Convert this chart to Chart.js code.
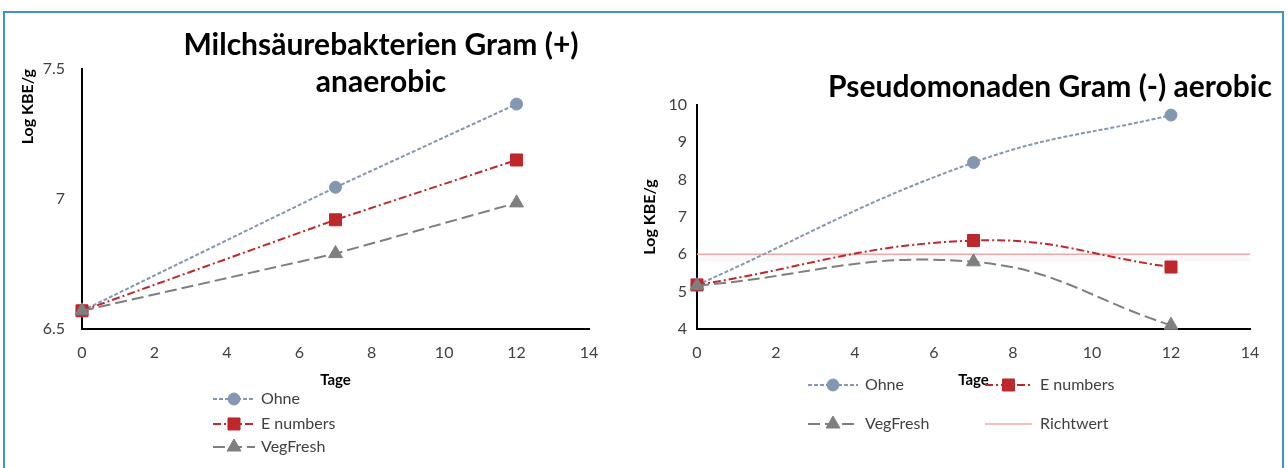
<!DOCTYPE html>
<html>
<head>
<meta charset="utf-8">
<script src="https://cdn.jsdelivr.net/npm/chart.js@4.4.0/dist/chart.umd.min.js"></script>
<style>
html, body { margin: 0; padding: 0; background: #fff; }
body { width: 1288px; height: 468px; position: relative; overflow: hidden; }
#frame { position: absolute; left: 3px; top: 11px; width: 1277px; height: 470px; border: 2px solid #4291cf; border-bottom: none; }
#left { position: absolute; left: 5px; top: 13px; }
#right { position: absolute; left: 640px; top: 13px; }
</style>
</head>
<body>
<div id="frame"></div>
<canvas id="left" width="635" height="455"></canvas>
<canvas id="right" width="642" height="455"></canvas>
<script>
// Werte
const days = [0, 7, 12];
const dayTicks = [0, 2, 4, 6, 8, 10, 12, 14];

const lacTicks = [6.5, 7, 7.5];
const lacOhne = [6.57, 7.045, 7.365];
const lacENumbers = [6.57, 6.92, 7.15];
const lacVegFresh = [6.57, 6.79, 6.985];

const pseTicks = [4, 5, 6, 7, 8, 9, 10];
const pseOhne = [5.18, 8.46, 9.73];
const pseENumbers = [5.18, 6.37, 5.66];
const pseVegFresh = [5.16, 5.8, 4.1];

const richtwertDays = [0, 14];
const richtwertValues = [6, 6];

const seriesStyle = {
  'Ohne':      { color: '#8497b0', dash: [4, 2],        point: 'circle',   radius: 6,   order: 3 },
  'E numbers': { color: '#be282d', dash: [8, 3, 2, 3],  point: 'rect',     radius: 8.5, order: 2 },
  'VegFresh':  { color: '#7f7f7f', dash: [12, 5],       point: 'triangle', radius: 8,   order: 1 },
  'Richtwert': { color: '#f4a7a6', dash: [],            point: false,      radius: 0,   order: 4 }
};

const pts = (xs, ys) => xs.map((x, i) => ({ x: x, y: ys[i] }));

function lineDataset(label, xs, ys, tension) {
  const s = seriesStyle[label];
  return {
    label: label,
    data: pts(xs, ys),
    borderColor: s.color,
    backgroundColor: s.color,
    borderWidth: label === 'Richtwert' ? 1.5 : 2,
    borderDash: s.dash,
    pointStyle: s.point,
    pointRadius: s.radius,
    pointHoverRadius: s.radius,
    pointBorderWidth: 1,
    pointBackgroundColor: s.color,
    pointBorderColor: s.color,
    tension: tension,
    order: s.order,
    clip: false
  };
}

// verschiebt den Titel horizontal (Excel setzt ihn nicht mittig)
const titleShift = {
  id: 'titleShift',
  afterLayout(chart, args, opts) {
    const t = chart.titleBlock;
    if (!t || !opts.dx) return;
    t.left += opts.dx;
    t.right += opts.dx;
  }
};

// leichter grauer Streifen unter dem Richtwert
const richtShadow = {
  id: 'richtShadow',
  beforeDatasetDraw(chart, args) {
    if (chart.data.datasets[args.index].label !== 'Richtwert') return;
    const ctx = chart.ctx;
    ctx.save();
    ctx.shadowColor = 'rgba(0,0,0,0.12)';
    ctx.shadowBlur = 4;
    ctx.shadowOffsetY = 5;
  },
  afterDatasetDraw(chart, args) {
    if (chart.data.datasets[args.index].label !== 'Richtwert') return;
    chart.ctx.restore();
  }
};

// Legende wie in Excel: Linie mit Marker
const lineLegend = {
  id: 'lineLegend',
  afterDraw(chart, args, opts) {
    const ctx = chart.ctx;
    const helpers = Chart.helpers;
    chart.data.datasets.forEach((ds, i) => {
      const it = opts.items[i];
      if (!it) return;
      ctx.save();
      ctx.strokeStyle = ds.borderColor;
      ctx.lineWidth = ds.borderWidth;
      ctx.setLineDash(ds.borderDash || []);
      ctx.beginPath();
      ctx.moveTo(it.x1, it.y);
      ctx.lineTo(it.x2, it.y);
      ctx.stroke();
      ctx.setLineDash([]);
      if (ds.pointStyle) {
        ctx.fillStyle = ds.pointBackgroundColor;
        ctx.strokeStyle = ds.pointBorderColor;
        ctx.lineWidth = 1;
        const cx = (it.x1 + it.x2) / 2;
        if (helpers && helpers.drawPoint) {
          helpers.drawPoint(ctx, { pointStyle: ds.pointStyle, radius: ds.pointRadius, rotation: 0, borderWidth: 1 }, cx, it.y);
        } else {
          ctx.beginPath();
          ctx.arc(cx, it.y, ds.pointRadius, 0, Math.PI * 2);
          ctx.fill();
        }
      }
      ctx.fillStyle = '#404040';
      ctx.font = '16px Lato';
      ctx.textBaseline = 'middle';
      ctx.textAlign = 'left';
      ctx.fillText(ds.label, it.tx, it.y);
      ctx.restore();
    });
  }
};

function scalesFor(yTicks, yMin, yMax, yWidth, yPad, yTitlePad, yTitleAlign) {
  return {
    x: {
      type: 'linear',
      min: 0,
      max: 14,
      afterBuildTicks: s => { s.ticks = dayTicks.map(v => ({ value: v })); },
      afterFit: s => { s.height = 60; },
      grid: { display: false, drawTicks: false },
      border: { display: true, color: '#000', width: 2 },
      ticks: { color: '#404040', font: { family: 'Lato', size: 16 }, padding: 14, maxRotation: 0, callback: v => String(v) },
      title: { display: true, text: 'Tage', color: '#000', font: { family: 'Lato', size: 15, weight: 'bold' }, padding: 0 }
    },
    y: {
      type: 'linear',
      min: yMin,
      max: yMax,
      afterBuildTicks: s => { s.ticks = yTicks.map(v => ({ value: v })); },
      afterFit: s => { s.width = yWidth; },
      grid: { display: false, drawTicks: false },
      border: { display: true, color: '#000', width: 2 },
      ticks: { color: '#404040', font: { family: 'Lato', size: 16 }, padding: yPad, callback: v => String(v) },
      title: { display: true, text: 'Log KBE/g', align: yTitleAlign, color: '#000', font: { family: 'Lato', size: 16, weight: 'bold' }, padding: { top: yTitlePad, bottom: 0 } }
    }
  };
}

new Chart(document.getElementById('left'), {
  type: 'line',
  data: {
    datasets: [
      lineDataset('Ohne', days, lacOhne, 0),
      lineDataset('E numbers', days, lacENumbers, 0),
      lineDataset('VegFresh', days, lacVegFresh, 0)
    ]
  },
  options: {
    responsive: false,
    animation: false,
    layout: { padding: { left: 0, right: 51, top: 0, bottom: 79 } },
    scales: scalesFor(lacTicks, 6.5, 7.5, 77, 17, 13, 'end'),
    plugins: {
      legend: { display: false },
      tooltip: { enabled: false },
      title: {
        display: true,
        text: ['Milchsäurebakterien Gram (+)', 'anaerobic'],
        color: '#000',
        font: { family: 'Lato', size: 30, weight: 'bold', lineHeight: '37px' },
        padding: { top: 13.5, bottom: -31.5 }
      },
      titleShift: { dx: 84 },
      lineLegend: {
        items: [
          { x1: 208, x2: 250, tx: 256, y: 386 },
          { x1: 208, x2: 250, tx: 256, y: 411 },
          { x1: 208, x2: 250, tx: 256, y: 434 }
        ]
      }
    }
  },
  plugins: [titleShift, lineLegend]
});

new Chart(document.getElementById('right'), {
  type: 'line',
  data: {
    datasets: [
      lineDataset('Ohne', days, pseOhne, 0.42),
      lineDataset('E numbers', days, pseENumbers, 0.42),
      lineDataset('VegFresh', days, pseVegFresh, 0.42),
      lineDataset('Richtwert', richtwertDays, richtwertValues, 0)
    ]
  },
  options: {
    responsive: false,
    animation: false,
    layout: { padding: { left: 0, right: 32, top: 0, bottom: 79 } },
    scales: scalesFor(pseTicks, 4, 10, 57, 10, 0, 'center'),
    plugins: {
      legend: { display: false },
      tooltip: { enabled: false },
      title: {
        display: true,
        text: 'Pseudomonaden Gram (-) aerobic',
        color: '#000',
        font: { family: 'Lato', size: 30, weight: 'bold', lineHeight: '37px' },
        padding: { top: 55.5, bottom: -0.5 }
      },
      titleShift: { dx: 105 },
      lineLegend: {
        items: [
          { x1: 168, x2: 218, tx: 225, y: 372 },
          { x1: 345, x2: 392, tx: 400, y: 372 },
          { x1: 168, x2: 218, tx: 225, y: 411 },
          { x1: 345, x2: 392, tx: 400, y: 411 }
        ]
      }
    }
  },
  plugins: [titleShift, richtShadow, lineLegend]
});
</script>
</body>
</html>
